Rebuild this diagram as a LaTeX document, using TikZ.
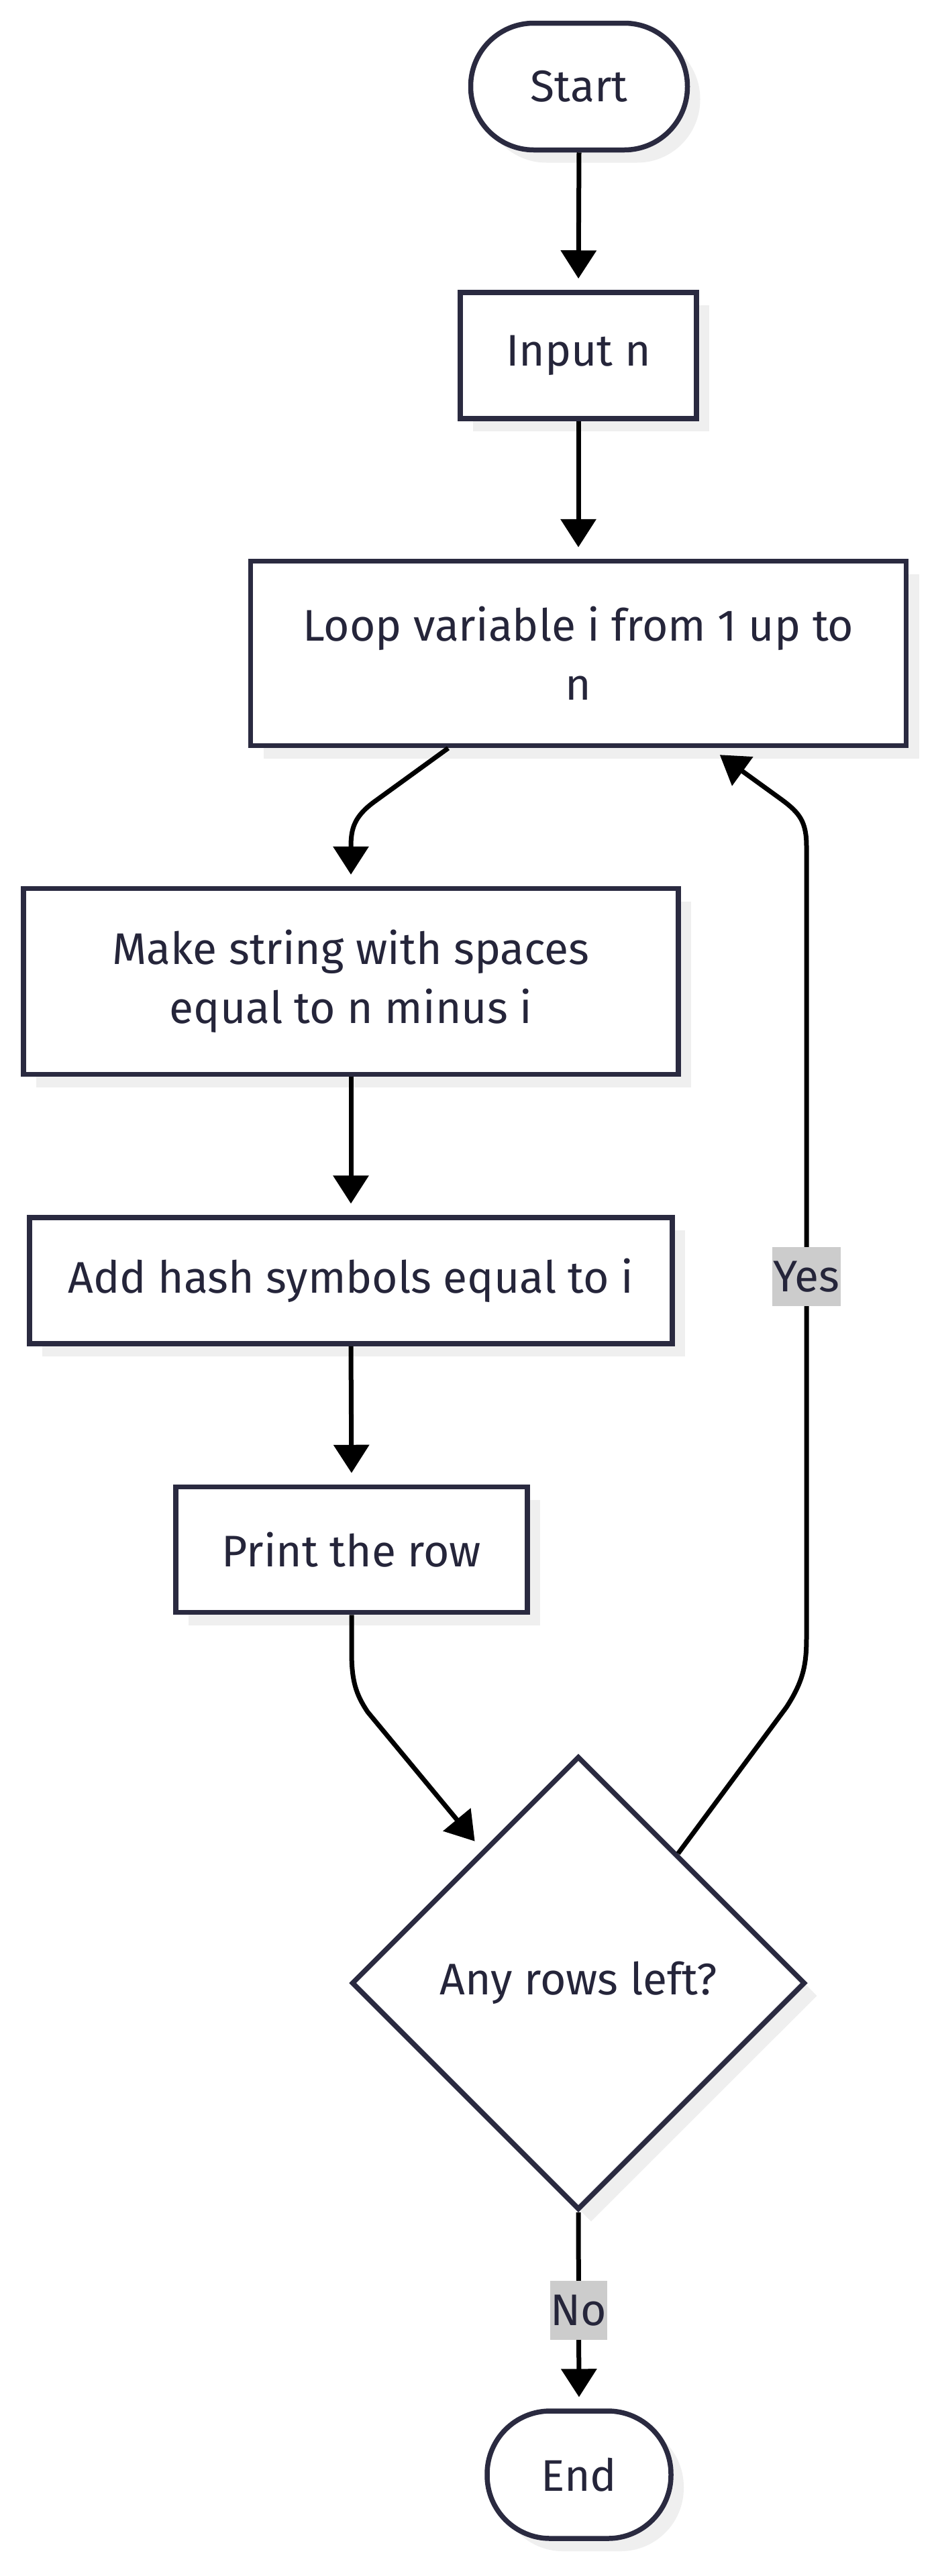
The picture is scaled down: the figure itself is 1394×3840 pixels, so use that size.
\documentclass[tikz,border=0pt]{standalone}
\usepackage{fontspec}
\setmainfont{Fira Sans}
\usetikzlibrary{shapes.geometric,shadows,arrows.meta,calc}
\definecolor{bordc}{HTML}{2A2A40}
\definecolor{txtc}{HTML}{25253A}
\definecolor{shc}{HTML}{EFEFEF}
\definecolor{lblc}{HTML}{CCCCCC}
\begin{document}
\begin{tikzpicture}[x=0.5pt,y=-0.5pt,
  base/.style={draw=bordc, line width=3.75pt, fill=white, text=txtc,
    font=\fontsize{33}{44}\selectfont, align=center, inner sep=0pt,
    drop shadow={shadow xshift=9.5pt, shadow yshift=-9.5pt, fill=shc, opacity=1}},
  procbox/.style={base, rectangle},
  termbox/.style={base, rectangle, rounded corners=47pt},
  decbox/.style={base, diamond, aspect=1},
  arr/.style={line width=3.5pt, draw=black, -{Triangle[width=26pt,length=21pt]}, shorten >=8.5pt},
  lbl/.style={fill=lblc, text=txtc, font=\fontsize{33}{44}\selectfont,
    inner xsep=0.5pt, inner ysep=0pt, minimum height=44pt}
]
\useasboundingbox (0,0) rectangle (1394,3840);
\fill[white] (0,0) rectangle (1394,3840);

\node[termbox, minimum width=161.5pt, minimum height=94.5pt] (start) at (863,129) {Start};
\node[procbox, minimum width=176pt, minimum height=94pt] (input) at (862,530) {Input n};
\node[procbox, minimum width=488.5pt, minimum height=137.5pt] (loop) at (862,974) {Loop variable i from 1 up to\\n};
\node[procbox, minimum width=488pt, minimum height=138.5pt] (make) at (523,1463) {Make string with spaces\\equal to n minus i};
\node[procbox, minimum width=479pt, minimum height=94pt] (add) at (523,1909) {Add hash symbols equal to i};
\node[procbox, minimum width=262pt, minimum height=93.5pt] (print) at (524,2310) {Print the row};
\node[decbox, minimum width=338pt, minimum height=338pt] (dec) at (862,2956) {Any rows left?};
\node[termbox, minimum width=137pt, minimum height=95pt] (end) at (863,3689) {End};

\draw[arr] (start.south) -- (input.north);
\draw[arr] (input.south) -- (loop.north);
\draw[arr] ([xshift=-97pt]loop.south) -- (558,1195) .. controls (528,1217) and (523,1235) .. (523,1262) -- (make.north);
\draw[arr] (make.south) -- (add.north);
\draw[arr] (add.south) -- (print.north);
\draw[arr] (print.south) -- (524,2462) .. controls (524,2505) and (530,2525) .. (548,2552) -- ($(dec.north)!0.42!(dec.west)$);
\draw[arr] ($(dec.north)!0.435!(dec.east)$) -- (1172,2545) .. controls (1198,2505) and (1202,2480) .. (1202,2440)
  -- node[lbl, pos=0.456]{Yes} (1202,1262) .. controls (1202,1225) and (1192,1212) .. (1165,1192) -- ([xshift=98.5pt]loop.south);
\draw[arr] (dec.south) -- node[lbl]{No} (end.north);
\end{tikzpicture}
\end{document}
